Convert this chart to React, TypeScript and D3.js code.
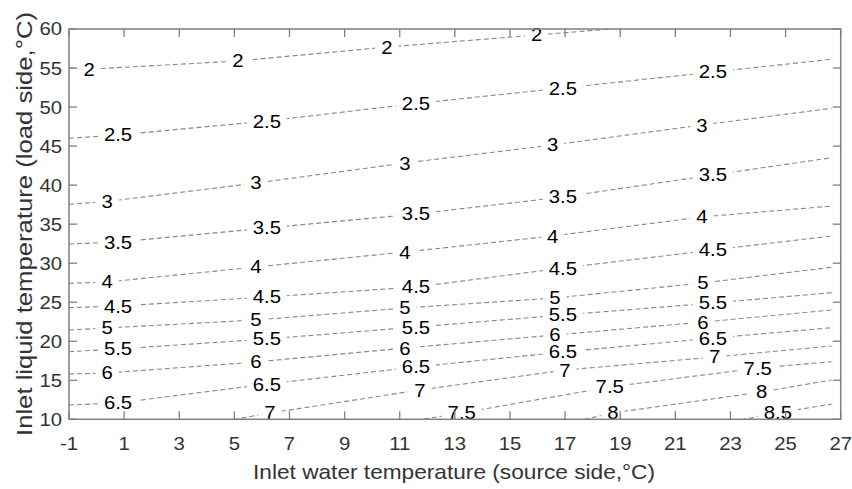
import React from "react";
import * as d3 from "d3";

const xTicks = [-1, 1, 3, 5, 7, 9, 11, 13, 15, 17, 19, 21, 23, 25, 27];
const yTicks = [10, 15, 20, 25, 30, 35, 40, 45, 50, 55, 60];

// contour polylines [x, y] (label centres are vertices)
const c2: [number, number][] = [[-1, 54.97], [-0.27, 54.85], [5.13, 55.9], [10.53, 57.69], [15.97, 59.23], [19, 60.1]];
const c25: [number, number][] = [[-1, 46.0], [0.78, 46.42], [6.18, 48.21], [11.59, 50.46], [16.92, 52.44], [22.36, 54.49], [26.67, 56.12]];
const c3: [number, number][] = [[-1, 37.54], [0.38, 37.9], [5.78, 40.27], [11.19, 42.83], [16.55, 45.14], [21.96, 47.7], [26.67, 49.84]];
const c35: [number, number][] = [[-1, 32.46], [0.78, 32.71], [6.18, 34.51], [11.59, 36.3], [16.92, 38.48], [22.36, 41.3], [26.67, 43.51]];
const c4: [number, number][] = [[-1, 27.42], [0.38, 27.59], [5.78, 29.51], [11.19, 31.43], [16.55, 33.48], [21.96, 35.92], [26.67, 37.32]];
const c45: [number, number][] = [[-1, 24.3], [0.78, 24.51], [6.18, 25.67], [11.59, 26.95], [16.92, 29.38], [22.36, 31.69], [26.67, 33.48]];
const c5: [number, number][] = [[-1, 21.44], [0.38, 21.7], [5.78, 22.72], [11.19, 24.26], [16.63, 25.54], [22.0, 27.46], [26.67, 29.48]];
const c55: [number, number][] = [[-1, 18.66], [0.78, 19.01], [6.18, 20.29], [11.59, 21.82], [16.92, 23.36], [22.36, 24.9], [26.67, 26.22]];
const c6: [number, number][] = [[-1, 15.8], [0.38, 15.93], [5.78, 17.34], [11.19, 19.13], [16.63, 20.8], [22.0, 22.46], [26.67, 24.0]];
const c65: [number, number][] = [[-1, 11.83], [0.78, 12.09], [6.18, 14.52], [11.59, 16.7], [16.92, 18.62], [22.36, 20.41], [26.67, 21.73]];
const c7: [number, number][] = [[4.4, 9.6], [6.29, 10.81], [11.73, 13.75], [16.99, 16.31], [22.43, 17.98], [26.67, 19.39]];
const c75: [number, number][] = [[11.3, 9.7], [13.25, 10.81], [18.62, 14.14], [23.99, 16.57], [26.67, 17.38]];
const c8: [number, number][] = [[17.4, 9.75], [18.73, 10.81], [24.13, 13.5], [26.67, 15.04]];
const c85: [number, number][] = [[23.1, 9.75], [24.72, 10.81], [26.67, 11.96]];

const levels = [
  { text: "2", pts: c2, labels: [1, 2, 3, 4] },
  { text: "2.5", pts: c25, labels: [1, 2, 3, 4, 5] },
  { text: "3", pts: c3, labels: [1, 2, 3, 4, 5] },
  { text: "3.5", pts: c35, labels: [1, 2, 3, 4, 5] },
  { text: "4", pts: c4, labels: [1, 2, 3, 4, 5] },
  { text: "4.5", pts: c45, labels: [1, 2, 3, 4, 5] },
  { text: "5", pts: c5, labels: [1, 2, 3, 4, 5] },
  { text: "5.5", pts: c55, labels: [1, 2, 3, 4, 5] },
  { text: "6", pts: c6, labels: [1, 2, 3, 4, 5] },
  { text: "6.5", pts: c65, labels: [1, 2, 3, 4, 5] },
  { text: "7", pts: c7, labels: [1, 2, 3, 4] },
  { text: "7.5", pts: c75, labels: [1, 2, 3] },
  { text: "8", pts: c8, labels: [1, 2] },
  { text: "8.5", pts: c85, labels: [1] },
];

const W = 852;
const H = 489;
const L = 69, R = 840.7, T = 29, B = 419.3;
const SX = 1.13;

export default function App() {
  const x = d3.scaleLinear().domain([-1, 27]).range([L, R]);
  const y = d3.scaleLinear().domain([10, 60]).range([B, T]);
  const line = d3.line<[number, number]>().x((d) => x(d[0])).y((d) => y(d[1]));
  const font = "'Liberation Sans', Arial, sans-serif";
  const labW = (t: string) => (t.length === 1 ? 10 : 25) * SX;
  const axisColor = "#7f7f7f";
  const tickLen = 8;
  return (
    <svg width={W} height={H} style={{ position: "absolute", left: 0, top: 0, background: "#fff" }} fontFamily={font}>
      <defs>
        <clipPath id="plotclip">
          <rect x={L} y={T} width={R - L} height={B - T} />
        </clipPath>
        {levels.map((lv, i) => (
          <mask id={`m${i}`} key={i} maskUnits="userSpaceOnUse" x={0} y={0} width={W} height={H}>
            <rect x={0} y={0} width={W} height={H} fill="#fff" />
            {lv.labels.map((k) => {
              const p = lv.pts[k];
              const w = labW(lv.text) + 12;
              return <rect key={k} x={x(p[0]) - w / 2} y={y(p[1]) - 9} width={w} height={18} fill="#000" />;
            })}
          </mask>
        ))}
      </defs>
      <g clipPath="url(#plotclip)">
        {levels.map((lv, i) => (
          <path key={i} d={line(lv.pts) || ""} fill="none" stroke="#888" strokeWidth={1.1} strokeDasharray="5,3" mask={`url(#m${i})`} />
        ))}
      </g>
      {levels.map((lv, i) =>
        lv.labels.map((k) => {
          const p = lv.pts[k];
          return (
            <text key={`${i}-${k}`} transform={`translate(${x(p[0])},${y(p[1])}) scale(${SX},1)`} dy="0.36em" textAnchor="middle" fontSize={18} fill="#000">
              {lv.text}
            </text>
          );
        })
      )}
      {/* box */}
      <rect x={L} y={T} width={R - L} height={B - T} fill="none" stroke={axisColor} strokeWidth={1.5} />
      {xTicks.map((t) => (
        <g key={`xt${t}`}>
          <line x1={x(t)} x2={x(t)} y1={B} y2={B - tickLen} stroke={axisColor} strokeWidth={1.3} />
          <line x1={x(t)} x2={x(t)} y1={T} y2={T + tickLen} stroke={axisColor} strokeWidth={1.3} />
          <text transform={`translate(${x(t)},450) scale(${SX},1)`} textAnchor="middle" fontSize={18} fill="#333">{t}</text>
        </g>
      ))}
      {yTicks.map((t) => (
        <g key={`yt${t}`}>
          <line x1={L} x2={L + tickLen} y1={y(t)} y2={y(t)} stroke={axisColor} strokeWidth={1.3} />
          <line x1={R} x2={R - tickLen} y1={y(t)} y2={y(t)} stroke={axisColor} strokeWidth={1.3} />
          <text transform={`translate(62,${y(t)}) scale(${SX},1)`} dy="0.36em" textAnchor="end" fontSize={18} fill="#333">{t}</text>
        </g>
      ))}
      <text x={454} y={479} textAnchor="middle" fontSize={21} fill="#333" textLength={402} lengthAdjust="spacingAndGlyphs">
        Inlet water temperature (source side,°C)
      </text>
      <text transform={`translate(32,224) rotate(-90)`} textAnchor="middle" fontSize={22} fill="#333" textLength={424} lengthAdjust="spacingAndGlyphs">
        Inlet liquid temperature (load side,°C)
      </text>
    </svg>
  );
}
